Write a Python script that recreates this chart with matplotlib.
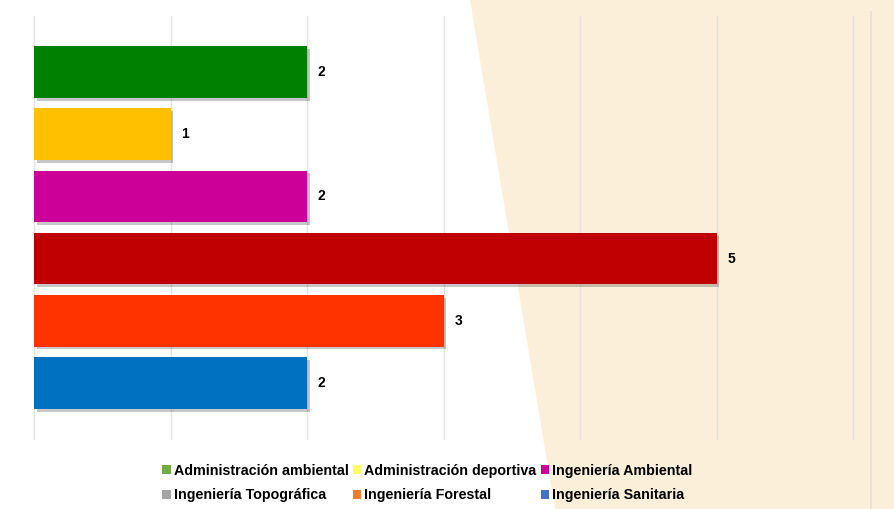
import matplotlib.pyplot as plt
import matplotlib.patheffects as pe
from matplotlib.patches import Polygon, Patch
from matplotlib.lines import Line2D

plt.rcParams['font.family'] = ['Liberation Sans', 'DejaVu Sans']

# data, top to bottom
carreras = ['Administración ambiental', 'Administración deportiva', 'Ingeniería Ambiental',
            'Ingeniería Topográfica', 'Ingeniería Forestal', 'Ingeniería Sanitaria']
valores = [2, 1, 2, 5, 3, 2]
bar_colors = ['#008000', '#FFC000', '#CC0099', '#C00000', '#FF3300', '#0070C0']
legend_colors = ['#70AD47', '#FFFF66', '#CC0099', '#A5A5A5', '#ED7D31', '#4472C4']

W, H = 894, 509
fig = plt.figure(figsize=(W / 100, H / 100), dpi=100)

# beige background shape on the right
fig.patches.append(Polygon([(470 / W, 1), (1, 1), (1, 0), (555 / W, 0)], closed=True,
                           transform=fig.transFigure, facecolor='#FCEFD9',
                           edgecolor='none', zorder=0))
fig.lines.append(Line2D([871 / W, 871 / W], [0, 1 - 12 / H], transform=fig.transFigure,
                        color='#E6DFD6', lw=1.2, zorder=0.5))

ax = fig.add_axes([34 / W, (H - 439) / H, (853 - 34) / W, (439 - 16) / H])
ax.set_facecolor('none')
ax.set_zorder(2)

ypos = list(range(len(valores)))[::-1]
bars = ax.barh(ypos, valores, height=0.83, color=bar_colors, zorder=3)
for b in bars:
    b.set_path_effects([pe.SimplePatchShadow(offset=(2, -2), shadow_rgbFace='#000000', alpha=0.22),
                        pe.Normal()])
for y, v in zip(ypos, valores):
    ax.text(v + 0.08, y, str(v), va='center', ha='left', fontsize=10, fontweight='bold', zorder=4)

ax.set_xlim(0, 6)
ax.set_ylim(-0.9, 5.9)
ax.set_xticks(range(7))
ax.set_yticks([])
ax.tick_params(axis='x', length=0, labelbottom=False)
ax.grid(axis='x', color='#E3E3E3', lw=1, zorder=1)
for gl in ax.get_xgridlines():
    gl.set_clip_on(False)
for s in ax.spines.values():
    s.set_visible(False)

# legend fills column by column, so reorder to read row by row
order = [0, 3, 1, 4, 2, 5]
handles = [Patch(facecolor=legend_colors[i], edgecolor='none') for i in order]
labels = [carreras[i] for i in order]
leg = fig.legend(handles, labels, loc='lower center', bbox_to_anchor=(0.478, -0.012), ncol=3,
                 frameon=False, handlelength=0.6, handleheight=0.6, handletextpad=0.2,
                 columnspacing=0.3, labelspacing=0.75,
                 prop={'size': 10.3, 'weight': 'bold'})
leg.set_zorder(3)

fig.savefig('out.png', dpi=100)
